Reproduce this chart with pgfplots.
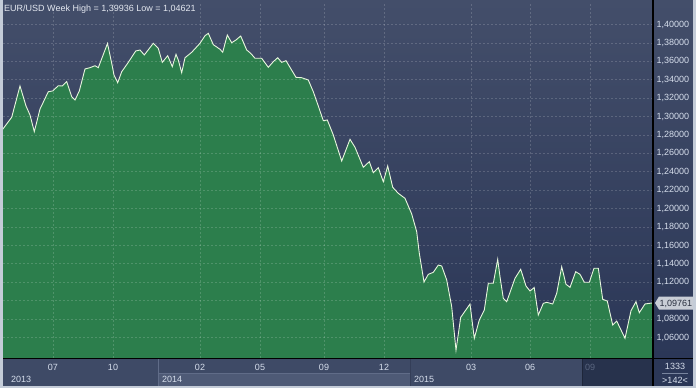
\documentclass[border=0pt]{standalone}
\usepackage{pgfplots}
\pgfplotsset{compat=1.18}
\usepackage{pgfplotstable}
\usepackage{fontspec}
\setmainfont{Liberation Sans}
\definecolor{bgtop}{RGB}{67,78,106}
\definecolor{bgbot}{RGB}{43,55,87}
\definecolor{fillgreen}{RGB}{44,126,76}
\definecolor{linecol}{RGB}{232,246,222}
\definecolor{txt}{RGB}{214,222,236}
\definecolor{titletxt}{RGB}{228,232,240}
\definecolor{panel}{RGB}{62,74,102}
\definecolor{panel14b}{RGB}{78,90,118}
\definecolor{panelline}{RGB}{96,108,136}
\definecolor{sep15}{RGB}{52,62,88}
\definecolor{sepdark}{RGB}{30,38,58}
\definecolor{darkpanel}{RGB}{39,50,76}
\definecolor{frame}{RGB}{196,204,216}
\definecolor{graytick}{RGB}{90,102,128}
\definecolor{tag}{RGB}{200,205,214}
\definecolor{tagtxt}{RGB}{40,46,62}
\definecolor{boxline}{RGB}{120,132,158}
\pgfplotstableread{
x y
2.7 1.2862
11.7 1.2992
20 1.3332
26 1.3115
30 1.3017
34.3 1.2836
40 1.3082
48.3 1.3270
52.7 1.3278
58.3 1.3335
62.3 1.3332
66.7 1.3379
71.7 1.3216
75 1.3180
79.3 1.3278
85 1.3517
90 1.3531
95 1.3552
98.3 1.3531
107.5 1.3794
111.7 1.3579
114 1.3451
117.7 1.3368
121.7 1.3487
127.7 1.3579
135.7 1.3712
140 1.3723
144.3 1.3669
153.3 1.3796
158.3 1.3741
162.3 1.3589
167.7 1.3661
172.3 1.3542
176 1.3676
178.3 1.3614
181.7 1.3476
185 1.3639
191.7 1.3698
200 1.3796
205 1.3878
208.3 1.3904
213.3 1.3781
220 1.3731
222.7 1.3698
227.3 1.3886
231.7 1.3802
236 1.3832
240.7 1.3875
246.7 1.3723
250.7 1.3687
255 1.3633
261.7 1.3633
268.3 1.3535
273.3 1.3596
277.7 1.3639
281.7 1.3589
286 1.3607
296 1.3426
301.7 1.3422
308.3 1.3397
313.3 1.3270
318.3 1.3115
323.3 1.2955
327.3 1.2963
333.3 1.2800
341.7 1.2517
350 1.2753
355 1.2666
363.3 1.2449
369.3 1.2510
373.3 1.2390
378.3 1.2444
383.3 1.2292
387.7 1.2463
392.7 1.2232
398.3 1.2166
405 1.2112
411.7 1.1942
416.7 1.1749
419.3 1.1515
424 1.1203
428.3 1.1286
433.3 1.1308
438.3 1.1387
441.7 1.1377
446.7 1.1225
451.7 1.0935
456 1.0462
460.7 1.0819
470 1.0964
474.3 1.0591
479.3 1.0790
484.3 1.0899
488.3 1.1189
493.3 1.1189
497.7 1.1449
500 1.1260
503.3 1.1026
506.7 1.0989
515 1.1243
520.7 1.1341
526 1.1159
530 1.1105
534.2 1.1143
538.3 1.0844
543.3 1.0971
546.7 1.0982
552.7 1.0964
556.7 1.1080
561.7 1.1369
566 1.1178
570 1.1145
575.7 1.1315
580 1.1286
584.3 1.1200
589.3 1.1200
594 1.1352
598.3 1.1352
602.7 1.1015
607.3 1.0996
612.7 1.0736
616.7 1.0779
625 1.0591
631 1.0891
636 1.0989
639.3 1.0869
645 1.0964
652.7 1.0976
}\eurusd
\begin{document}
\begin{tikzpicture}[font=\fontsize{9pt}{10pt}\selectfont]
\useasboundingbox (0pt,0pt) rectangle (696pt,-388pt);
% background
\shade[top color=bgtop, bottom color=bgbot] (0pt,0pt) rectangle (696pt,-358pt);
\fill[panel] (0pt,-358pt) rectangle (696pt,-388pt);
\fill[panel14b] (158pt,-373pt) rectangle (410pt,-386pt);
\draw[panelline, line width=0.6pt] (158pt,-373pt) -- (410pt,-373pt);
\draw[panelline, line width=0.6pt] (158pt,-358pt) -- (158pt,-386pt);
\draw[sep15, line width=0.8pt] (410pt,-358pt) -- (410pt,-386pt);
\fill[darkpanel] (582pt,-358pt) rectangle (653pt,-386pt);
\draw[sepdark, line width=0.8pt] (582pt,-358pt) -- (582pt,-386pt);
\fill[bgbot] (653pt,-358pt) rectangle (693pt,-386pt);
\begin{axis}[
  at={(3pt,-358pt)}, anchor=south west,
  scale only axis, width=650pt, height=355pt,
  xmin=3, xmax=653, ymin=1.03772, ymax=1.42336,
  axis x line=bottom, axis y line=right,
  axis line style={draw=none},
  axis on top,
  major tick length=0pt,
  xtick={53,113,200,260,324,384,471,530,590},
  xticklabels={07,10,02,05,09,12,03,06,{\textcolor{graytick}{09}}},
  ytick={1.06,1.08,1.12,1.14,1.16,1.18,1.20,1.22,1.24,1.26,1.28,1.30,1.32,1.34,1.36,1.38,1.40},
  extra y ticks={1.10},
  extra y tick labels={},
  /pgf/number format/fixed,
  /pgf/number format/fixed zerofill,
  /pgf/number format/precision=5,
  /pgf/number format/use comma,
  /pgf/number format/assume math mode=true,
  yticklabel pos=right,
  every y tick label/.append style={anchor=west, text=txt, font=\fontsize{9pt}{10pt}\selectfont},
  every x tick label/.append style={anchor=center, yshift=-9pt, text=txt, font=\fontsize{9pt}{10pt}\selectfont},
  grid=major,
  major grid style={dash pattern=on 2pt off 2pt, white, opacity=0.17, line width=0.7pt},
]
\addplot[fill=fillgreen, draw=none] table[x=x,y=y] {\eurusd} \closedcycle;
\addplot[linecol, line width=0.9pt] table[x=x,y=y] {\eurusd};
\end{axis}
% frame lines
\draw[black, line width=1.3pt] (3pt,-358.5pt) -- (693pt,-358.5pt);
\draw[black, line width=1.3pt] (653pt,0pt) -- (653pt,-386pt);
% outer border
\fill[frame] (0pt,0pt) rectangle (3pt,-388pt);
\fill[frame] (693pt,0pt) rectangle (696pt,-388pt);
\fill[frame] (0pt,-386pt) rectangle (696pt,-388pt);
% title
\node[anchor=base west, text=titletxt, inner sep=0pt] at (4pt,-12pt) {EUR/USD Week High = 1,39936 Low = 1,04621};
% years
\node[anchor=base west, text=txt, inner sep=0pt] at (11pt,-382pt) {2013};
\node[anchor=base west, text=txt, inner sep=0pt] at (162pt,-382pt) {2014};
\node[anchor=base west, text=txt, inner sep=0pt] at (414pt,-382pt) {2015};
% value tag
\fill[tag] (655pt,-303pt) -- (659pt,-296.5pt) -- (693pt,-296.5pt) -- (693pt,-309.5pt) -- (659pt,-309.5pt) -- cycle;
\node[anchor=base west, text=tagtxt, inner sep=0pt] at (659.5pt,-306.3pt) {1,09761};
% bottom right box
\node[anchor=base, text=txt, inner sep=0pt] at (675pt,-369pt) {1333};
\draw[boxline, line width=0.6pt] (662pt,-373pt) -- (688pt,-373pt);
\node[anchor=base, text=txt, inner sep=0pt] at (675pt,-383pt) {>142<};
\end{tikzpicture}
\end{document}
